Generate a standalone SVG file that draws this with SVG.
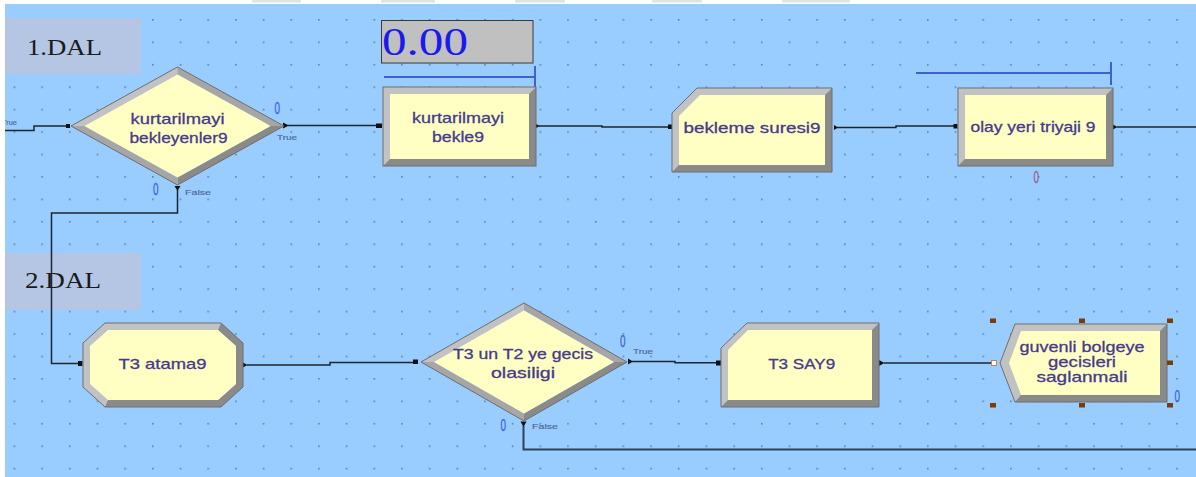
<svg xmlns="http://www.w3.org/2000/svg" width="1196" height="477" viewBox="0 0 1196 477">
<style>
.lbl{font-family:"Liberation Sans",Arial,sans-serif;font-size:15px;fill:#463a8c;stroke:#463a8c;stroke-width:0.3;text-anchor:middle}
.dal{font-family:"Liberation Serif","Times New Roman",serif;font-size:24px;fill:#1a1a1a}
.sm{font-family:"Liberation Sans",Arial,sans-serif;font-size:7.5px;fill:#4f689c;stroke:#4f689c;stroke-width:0.15}
.zero{font-family:"Liberation Sans",Arial,sans-serif;font-size:17px;fill:#3f5fe0;stroke:#3f5fe0;stroke-width:0.3}
.conn{fill:none;stroke:#1c2630;stroke-width:1.5}
.lt{fill:#c2c2c2}
.md{fill:#a6a6a6}
.dk{fill:#8a8a8a}
.in{fill:#ffffc4}
.edge{fill:none;stroke:#6e6e6e;stroke-width:1}
.dot{fill:#111}
.bar{fill:none;stroke:#4060d0;stroke-width:2}
.hdl{fill:#7a3c08}
</style>
<defs>
<pattern id="grid" patternUnits="userSpaceOnUse" x="13.6" y="19" width="27.68" height="22.44">
<rect x="0" y="0" width="1.6" height="1.6" fill="#667f99"/>
</pattern>
</defs>
<rect x="0" y="0" width="1196" height="477" fill="#99ccff"/>
<rect x="0" y="0" width="1196" height="477" fill="url(#grid)"/>

<g id="dal1">
<rect x="5" y="18" width="136" height="56" fill="#b4c6e4"/>
<text class="dal" x="27" y="54.5" textLength="75" lengthAdjust="spacingAndGlyphs">1.DAL</text>
</g>
<g id="dal2">
<rect x="5" y="253" width="136" height="57" fill="#b4c6e4"/>
<text class="dal" x="25" y="287.5" textLength="76" lengthAdjust="spacingAndGlyphs">2.DAL</text>
</g>

<g id="connectors">
<path class="conn" d="M2,130.5 H34 V126 H68"/>
<path class="conn" d="M288,125.5 H378"/>
<path class="conn" d="M539,126 H602 V127 H669"/>
<path class="conn" d="M837,127.5 H896 V126 H955"/>
<path class="conn" d="M1117,127 H1196"/>
<path class="conn" d="M177.5,190 V213 H51.5 V363.5 H79"/>
<path class="conn" d="M247,365 H330 V362.5 H414"/>
<path class="conn" d="M632,361.5 H675 V362.8 H716"/>
<path class="conn" d="M884,363 H993"/>
<path d="M523.5,426 V449.5 H1196" fill="none" stroke="#2e4257" stroke-width="2"/>
<rect class="dot" x="66" y="124" width="4" height="4"/>
<rect class="dot" x="376" y="123.5" width="6" height="4.5"/>
<rect class="dot" x="668" y="124.5" width="5" height="4.5"/>
<rect class="dot" x="953.5" y="124" width="4" height="4.5"/>
<rect class="dot" x="78" y="361" width="4.5" height="5"/>
<rect class="dot" x="413" y="359.5" width="5" height="4.5"/>
<rect class="dot" x="716" y="360.5" width="5.5" height="5"/>
<polygon class="dot" points="283,122.5 289,125.5 283,128.5"/>
<polygon class="dot" points="536,124 540,126 536,128"/>
<polygon class="dot" points="834,125 838,127.5 834,130"/>
<polygon class="dot" points="1113,124.5 1117.5,127 1113,129.5"/>
<polygon class="dot" points="243,362.5 247.5,365 243,367.5"/>
<polygon class="dot" points="879,360 884.5,363 879,366"/>
<polygon class="dot" points="628,358.5 633,361.5 628,364.5"/>
<polygon class="dot" points="174.5,186 180.5,186 177.5,191"/>
<polygon class="dot" points="520.5,421.5 526.5,421.5 523.5,427"/>
<rect x="991.5" y="360.5" width="5" height="5" fill="#fff" stroke="#d08040" stroke-width="1"/>
<text class="sm" x="2" y="124.5" textLength="15" lengthAdjust="spacingAndGlyphs">True</text>
<text class="sm" x="277" y="140" textLength="20" lengthAdjust="spacingAndGlyphs">True</text>
<text class="sm" x="185" y="194.5" textLength="26" lengthAdjust="spacingAndGlyphs">False</text>
<text class="sm" x="633" y="354" textLength="20" lengthAdjust="spacingAndGlyphs">True</text>
<text class="sm" x="532" y="428.5" textLength="26" lengthAdjust="spacingAndGlyphs">False</text>
</g>

<g id="decide1">
<polygon class="lt" points="71,126 177.5,67 177.5,74.5 84.5,126"/>
<polygon class="md" points="177.5,67 284,126 270.5,126 177.5,74.5"/>
<polygon class="dk" points="284,126 177.5,185 177.5,177.5 270.5,126"/>
<polygon class="md" points="177.5,185 71,126 84.5,126 177.5,177.5"/>
<polygon class="in" points="84.5,126 177.5,74.5 270.5,126 177.5,177.5"/>
<polygon class="edge" points="71,126 177.5,67 284,126 177.5,185"/>
<text class="lbl" x="177.5" y="124" textLength="94" lengthAdjust="spacingAndGlyphs">kurtarilmayi</text>
<text class="lbl" x="178.5" y="143" textLength="98" lengthAdjust="spacingAndGlyphs">bekleyenler9</text>
<text class="zero" x="274.5" y="114" textLength="5.5" lengthAdjust="spacingAndGlyphs">0</text>
<text class="zero" x="153" y="195" textLength="5.5" lengthAdjust="spacingAndGlyphs">0</text>
</g>

<g id="display">
<rect x="381.5" y="20.5" width="151.5" height="42.5" fill="#c0c0c0" stroke="#3a3a3a" stroke-width="1"/>
<text x="382" y="54.5" font-family="'Liberation Serif','Times New Roman',serif" font-size="39" fill="#1a1aee" textLength="86" lengthAdjust="spacingAndGlyphs">0.00</text>
</g>

<g id="process1">
<path class="bar" d="M384,77 H535 M535,66 V87"/>
<polygon class="lt" points="383,87 536,87 529,94 390,94 390,159 383,166"/>
<polygon class="dk" points="536,87 536,166 383,166 390,159 529,159 529,94"/>
<rect class="in" x="390" y="94" width="139" height="65"/>
<rect class="edge" x="383" y="87" width="153" height="79"/>
<text class="lbl" x="458" y="123" textLength="92" lengthAdjust="spacingAndGlyphs">kurtarilmayi</text>
<text class="lbl" x="458" y="142" textLength="52" lengthAdjust="spacingAndGlyphs">bekle9</text>
</g>

<g id="assign1">
<polygon class="lt" points="672,172 672,113 697,88 832,88 825,95 700,95 679,116 679,165"/>
<polygon class="dk" points="832,88 832,172 672,172 679,165 825,165 825,95"/>
<polygon class="in" points="679,116 700,95 825,95 825,165 679,165"/>
<polygon class="edge" points="672,113 697,88 832,88 832,172 672,172"/>
<text class="lbl" x="752" y="133" textLength="137" lengthAdjust="spacingAndGlyphs">bekleme suresi9</text>
</g>

<g id="process2">
<path class="bar" d="M916,73 H1111 M1111,62 V85"/>
<polygon class="lt" points="958,88 1113,88 1106,95 965,95 965,159 958,166"/>
<polygon class="dk" points="1113,88 1113,166 958,166 965,159 1106,159 1106,95"/>
<rect class="in" x="965" y="95" width="141" height="64"/>
<rect class="edge" x="958" y="88" width="155" height="78"/>
<text class="lbl" x="1033" y="131.5" textLength="125" lengthAdjust="spacingAndGlyphs">olay yeri triyaji 9</text>
<text x="1033.5" y="183" font-family="'Liberation Sans',Arial,sans-serif" font-size="16" fill="#9a5c8a" stroke="#9a5c8a" stroke-width="0.3" textLength="5.5" lengthAdjust="spacingAndGlyphs">0</text>
</g>

<g id="create1">
<polygon class="lt" points="221,323 105,323 83,343 83,387 105,407 108,400 90,384 90,346 108,330 218,330"/>
<polygon class="dk" points="221,323 243,343 243,387 221,407 105,407 108,400 218,400 236,384 236,346 218,330"/>
<polygon class="in" points="108,330 218,330 236,346 236,384 218,400 108,400 90,384 90,346"/>
<polygon class="edge" points="105,323 221,323 243,343 243,387 221,407 105,407 83,387 83,343"/>
<text class="lbl" x="162.5" y="369" textLength="88" lengthAdjust="spacingAndGlyphs">T3 atama9</text>
</g>

<g id="decide2">
<polygon class="lt" points="421,362 524,303 524,310.5 434,362"/>
<polygon class="md" points="524,303 627,362 614,362 524,310.5"/>
<polygon class="dk" points="627,362 524,421 524,413.5 614,362"/>
<polygon class="md" points="524,421 421,362 434,362 524,413.5"/>
<polygon class="in" points="434,362 524,310.5 614,362 524,413.5"/>
<polygon class="edge" points="421,362 524,303 627,362 524,421"/>
<text class="lbl" x="523" y="358.5" textLength="140" lengthAdjust="spacingAndGlyphs">T3 un T2 ye gecis</text>
<text class="lbl" x="523" y="377.5" textLength="64" lengthAdjust="spacingAndGlyphs">olasiligi</text>
<text class="zero" x="620" y="347" textLength="5.5" lengthAdjust="spacingAndGlyphs">0</text>
<text class="zero" x="500.5" y="431" textLength="5.5" lengthAdjust="spacingAndGlyphs">0</text>
</g>

<g id="record1">
<polygon class="lt" points="721,407 721,348 747,323 879,323 872,330 748,330 728,350 728,400"/>
<polygon class="dk" points="879,323 879,407 721,407 728,400 872,400 872,330"/>
<polygon class="in" points="728,350 748,330 872,330 872,400 728,400"/>
<polygon class="edge" points="721,348 747,323 879,323 879,407 721,407"/>
<text class="lbl" x="801.7" y="369" textLength="67" lengthAdjust="spacingAndGlyphs">T3 SAY9</text>
</g>

<g id="dispose1">
<polygon class="lt" points="1015,402 1000,363 1015,324 1167,324 1160,331 1021,331 1009,363 1021,395"/>
<polygon class="dk" points="1167,324 1167,402 1015,402 1021,395 1160,395 1160,331"/>
<polygon class="in" points="1009,363 1021,331 1160,331 1160,395 1021,395"/>
<polygon class="edge" points="1000,363 1015,324 1167,324 1167,402 1015,402"/>
<text class="lbl" x="1082" y="352" textLength="125" lengthAdjust="spacingAndGlyphs">guvenli bolgeye</text>
<text class="lbl" x="1082" y="367" textLength="68" lengthAdjust="spacingAndGlyphs">gecisleri</text>
<text class="lbl" x="1082" y="382" textLength="91" lengthAdjust="spacingAndGlyphs">saglanmali</text>
<text class="zero" x="1174.5" y="402" textLength="5.5" lengthAdjust="spacingAndGlyphs">0</text>
<rect class="hdl" x="990" y="318.5" width="6" height="4.5"/>
<rect class="hdl" x="1079" y="318.5" width="6" height="4.5"/>
<rect class="hdl" x="1167" y="318.5" width="6" height="4.5"/>
<rect class="hdl" x="1167" y="360.5" width="6" height="4.5"/>
<rect class="hdl" x="990" y="403" width="6" height="4.5"/>
<rect class="hdl" x="1079" y="403" width="6" height="4.5"/>
<rect class="hdl" x="1167" y="403" width="6" height="4.5"/>
</g>

<g id="frame">
<rect x="0" y="0" width="1196" height="4" fill="#ffffff"/>
<rect x="0" y="0" width="5" height="477" fill="#ffffff"/>
<rect x="252" y="0" width="49" height="2.5" rx="1" fill="#e2e2e2"/>
<rect x="381" y="0" width="54" height="2.5" rx="1" fill="#e2e2e2"/>
<rect x="515" y="0" width="50" height="2.5" rx="1" fill="#e2e2e2"/>
<rect x="652" y="0" width="50" height="2.5" rx="1" fill="#e2e2e2"/>
<rect x="782" y="0" width="68" height="2.5" rx="1" fill="#e2e2e2"/>
</g>
</svg>
